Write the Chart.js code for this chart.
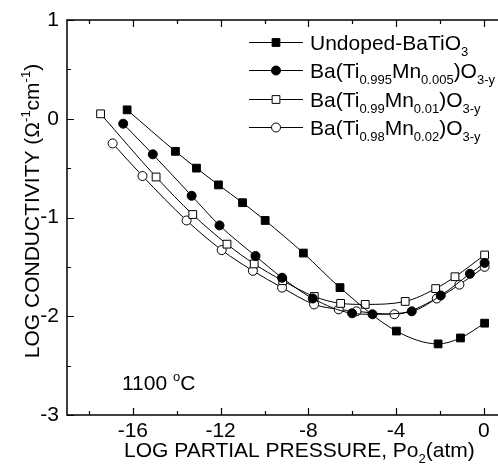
<!DOCTYPE html>
<html>
<head>
<meta charset="utf-8">
<script src="https://cdn.jsdelivr.net/npm/chart.js@4/dist/chart.umd.min.js"></script>
<style>
  body { margin: 0; background: #fff; }
  canvas { display: block; }
</style>
</head>
<body>
<canvas id="chart" width="498" height="468"></canvas>
<script>
// values (log pO2 in atm, log conductivity)
const undopedX = [-16.26, -14.06, -13.1, -12.1, -11.0, -9.97, -8.23, -6.56, -3.99, -2.09, -1.07, 0.03];
const undopedY = [0.09, -0.33, -0.5, -0.67, -0.85, -1.03, -1.36, -1.71, -2.15, -2.28, -2.22, -2.07];

const mn005X = [-16.44, -15.09, -13.32, -12.05, -10.41, -9.2, -7.8, -6.01, -5.08, -3.29, -1.97, -0.64, 0.03];
const mn005Y = [-0.05, -0.36, -0.78, -1.08, -1.39, -1.61, -1.82, -1.97, -1.98, -1.95, -1.79, -1.57, -1.46];

const mn01X = [-17.47, -14.94, -13.27, -11.71, -10.47, -9.17, -7.73, -6.53, -5.41, -3.59, -2.2, -1.32, 0.03];
const mn01Y = [0.05, -0.59, -0.97, -1.27, -1.47, -1.64, -1.8, -1.87, -1.88, -1.85, -1.72, -1.6, -1.38];

const mn02X = [-16.92, -15.56, -13.55, -11.95, -10.53, -9.2, -7.74, -6.62, -5.81, -4.08, -2.15, -1.12, 0.03];
const mn02Y = [-0.25, -0.58, -1.03, -1.33, -1.54, -1.71, -1.88, -1.93, -1.95, -1.98, -1.82, -1.68, -1.5];

const xTicks = [-16, -12, -8, -4, 0];
const xMinor = [-18, -14, -10, -6, -2];
const yTicks = [1, 0, -1, -2, -3];
const yMinor = [0.5, -0.5, -1.5, -2.5];

// legend labels, written as [text, 'n' | 'sub' | 'sup'] runs
const legendLabels = [
  [['Undoped-BaTiO', 'n'], ['3', 'sub']],
  [['Ba(Ti', 'n'], ['0.995', 'sub'], ['Mn', 'n'], ['0.005', 'sub'], [')O', 'n'], ['3-y', 'sub']],
  [['Ba(Ti', 'n'], ['0.99', 'sub'], ['Mn', 'n'], ['0.01', 'sub'], [')O', 'n'], ['3-y', 'sub']],
  [['Ba(Ti', 'n'], ['0.98', 'sub'], ['Mn', 'n'], ['0.02', 'sub'], [')O', 'n'], ['3-y', 'sub']]
];
const xTitle = [['LOG PARTIAL PRESSURE, Po', 'n'], ['2', 'sub'], ['(atm)', 'n']];
const yTitle = [['LOG CONDUCTIVITY (\u03A9', 'n'], ['-1', 'sup'], ['cm', 'n'], ['-1', 'sup'], [')', 'n']];
const tempLabel = [['1100 ', 'n'], ['o', 'sup'], ['C', 'n']];

const FONT = '"Liberation Sans", Arial, sans-serif';
const SMALL = 0.62;

function toPoints(xs, ys) {
  return xs.map((x, i) => ({ x: x, y: ys[i] }));
}

function series(label, xs, ys, style, filled, radius) {
  return {
    label: label,
    data: toPoints(xs, ys),
    showLine: true,
    borderColor: '#000',
    borderWidth: 1,
    cubicInterpolationMode: 'monotone',
    pointStyle: style,
    pointRadius: radius,
    pointBackgroundColor: filled ? '#000' : '#fff',
    pointBorderColor: '#000',
    pointBorderWidth: 1
  };
}

function drawRich(ctx, parts, x, y, size) {
  let cx = x;
  parts.forEach(p => {
    const fs = p[1] !== 'n' ? Math.round(size * SMALL) : size;
    ctx.font = fs + 'px ' + FONT;
    let dy = 0;
    if (p[1] === 'sub') dy = size * 0.3;
    if (p[1] === 'sup') dy = -size * 0.42;
    ctx.fillText(p[0], cx, y + dy);
    cx += ctx.measureText(p[0]).width;
  });
  return cx - x;
}

function richWidth(ctx, parts, size) {
  let w = 0;
  parts.forEach(p => {
    const fs = p[1] !== 'n' ? Math.round(size * SMALL) : size;
    ctx.font = fs + 'px ' + FONT;
    w += ctx.measureText(p[0]).width;
  });
  return w;
}

const framePlugin = {
  id: 'frame',
  afterDraw(chart) {
    const ctx = chart.ctx;
    const xs = chart.scales.x, ys = chart.scales.y;
    const a = chart.chartArea;
    ctx.save();
    ctx.strokeStyle = '#000';
    ctx.lineWidth = 1.5;
    ctx.beginPath();
    ctx.moveTo(chart.width, a.top);
    ctx.lineTo(a.left, a.top);
    ctx.lineTo(a.left, a.bottom);
    ctx.lineTo(chart.width, a.bottom);
    ctx.stroke();

    ctx.lineWidth = 1.2;
    ctx.beginPath();
    xTicks.concat(xMinor).forEach(v => {
      const len = xTicks.includes(v) ? 7 : 4;
      const px = Math.round(xs.getPixelForValue(v)) + 0.5;
      ctx.moveTo(px, a.bottom); ctx.lineTo(px, a.bottom - len);
      ctx.moveTo(px, a.top); ctx.lineTo(px, a.top + len);
    });
    yTicks.concat(yMinor).forEach(v => {
      const len = yTicks.includes(v) ? 7 : 4;
      const py = Math.round(ys.getPixelForValue(v)) + 0.5;
      ctx.moveTo(a.left, py); ctx.lineTo(a.left + len, py);
    });
    ctx.stroke();

    // tick labels
    ctx.fillStyle = '#000';
    ctx.font = '21px ' + FONT;
    ctx.textBaseline = 'middle';
    ctx.textAlign = 'center';
    xTicks.forEach(v => ctx.fillText(String(v), xs.getPixelForValue(v), a.bottom + 16));
    ctx.textAlign = 'right';
    yTicks.forEach(v => ctx.fillText(String(v), a.left - 8, ys.getPixelForValue(v)));

    ctx.textBaseline = 'alphabetic';
    ctx.textAlign = 'left';

    // x title
    drawRich(ctx, xTitle, 124, 457, 21);

    // y title, rotated
    ctx.save();
    const yw = richWidth(ctx, yTitle, 21);
    ctx.translate(39, 211 + yw / 2);
    ctx.rotate(-Math.PI / 2);
    drawRich(ctx, yTitle, 0, 0, 21);
    ctx.restore();

    // temperature note
    drawRich(ctx, tempLabel, 122, 390, 21);

    // legend
    const rows = [42, 70, 99, 127];
    chart.data.datasets.forEach((ds, i) => {
      const ry = rows[i];
      ctx.strokeStyle = '#000';
      ctx.lineWidth = 1;
      ctx.beginPath();
      ctx.moveTo(249, ry + 0.5); ctx.lineTo(303, ry + 0.5);
      ctx.stroke();
      ctx.fillStyle = ds.pointBackgroundColor;
      ctx.strokeStyle = '#000';
      Chart.helpers.drawPoint(ctx, {
        pointStyle: ds.pointStyle, radius: ds.pointRadius, borderWidth: 1, rotation: 0
      }, 276, ry + 0.5);
      ctx.fillStyle = '#000';
      drawRich(ctx, legendLabels[i], 310, ry + 8, 21);
    });
    ctx.restore();
  }
};

new Chart(document.getElementById('chart'), {
  type: 'scatter',
  data: {
    datasets: [
      series('Undoped', undopedX, undopedY, 'rect', true, 5.5),
      series('Mn0.005', mn005X, mn005Y, 'circle', true, 4.5),
      series('Mn0.01', mn01X, mn01Y, 'rect', false, 5.5),
      series('Mn0.02', mn02X, mn02Y, 'circle', false, 4.5)
    ]
  },
  options: {
    responsive: false,
    animation: false,
    layout: { autoPadding: false, padding: { top: 20, right: 0, left: 0, bottom: 0 } },
    plugins: { legend: { display: false }, tooltip: { enabled: false } },
    scales: {
      x: {
        type: 'linear',
        min: -19,
        max: 0.64,
        afterFit: s => { s.height = 53; s.paddingLeft = 0; s.paddingRight = 0; },
        grid: { display: false, drawTicks: false },
        border: { display: false },
        ticks: { display: false }
      },
      y: {
        type: 'linear',
        min: -3,
        max: 1,
        afterFit: s => { s.width = 67; s.paddingTop = 0; s.paddingBottom = 0; },
        grid: { display: false, drawTicks: false },
        border: { display: false },
        ticks: { display: false }
      }
    }
  },
  plugins: [framePlugin]
});
</script>
</body>
</html>
